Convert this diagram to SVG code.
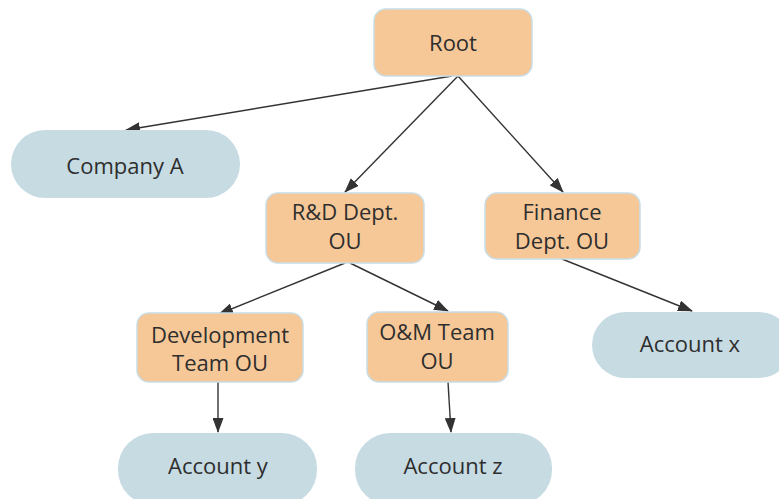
<svg xmlns="http://www.w3.org/2000/svg" width="779" height="499" viewBox="0 0 779 499">
<style>
.ou{fill:#F6C898;stroke:#C9DDE6;stroke-width:1.5}
.acc{fill:#C7DBE3}
text{font-family:"Open Sans","DejaVu Sans",sans-serif;font-size:22px;fill:#2e2e2e;text-anchor:middle}
.edge{stroke:#333;stroke-width:1.4;fill:none;marker-end:url(#arr)}
</style>
<defs>
<marker id="arr" markerUnits="userSpaceOnUse" markerWidth="15" markerHeight="11" refX="14" refY="5.5" orient="auto">
<path d="M0,0 L15,5.5 L0,11 z" fill="#333"/>
</marker>
</defs>
<rect width="779" height="499" fill="#fff"/>
<g id="connectors">
<line class="edge" x1="452" y1="76" x2="126" y2="130"/>
<line class="edge" x1="458" y1="76" x2="345" y2="192"/>
<line class="edge" x1="458" y1="76" x2="563" y2="192"/>
<line class="edge" x1="345" y1="263" x2="219" y2="314"/>
<line class="edge" x1="350" y1="263" x2="448" y2="311"/>
<line class="edge" x1="562" y1="259" x2="692" y2="311"/>
<line class="edge" x1="218" y1="382" x2="218" y2="432"/>
<line class="edge" x1="448" y1="382" x2="451" y2="432"/>
</g>
<g id="root"><rect class="ou" x="374" y="9" width="158" height="67" rx="12"/><text x="453" y="51">Root</text></g>
<g id="companyA"><rect class="acc" x="11" y="130" width="229" height="68" rx="34"/><text x="125" y="174">Company A</text></g>
<g id="rd"><rect class="ou" x="266" y="193" width="158" height="70" rx="12"/><text x="345" y="220">R&amp;D Dept.</text><text x="345" y="249">OU</text></g>
<g id="finance"><rect class="ou" x="485" y="193" width="155" height="66" rx="12"/><text x="562" y="220">Finance</text><text x="562" y="249">Dept. OU</text></g>
<g id="dev"><rect class="ou" x="137" y="313" width="166" height="69" rx="12"/><text x="220" y="343">Development</text><text x="220" y="371">Team OU</text></g>
<g id="om"><rect class="ou" x="367" y="312" width="141" height="70" rx="12"/><text x="437" y="340">O&amp;M Team</text><text x="437" y="369">OU</text></g>
<g id="accountX"><rect class="acc" x="592" y="312" width="200" height="66" rx="33"/><text x="690" y="352">Account x</text></g>
<g id="accountY"><rect class="acc" x="118" y="433" width="199" height="72" rx="35"/><text x="218" y="474">Account y</text></g>
<g id="accountZ"><rect class="acc" x="355" y="433" width="197" height="72" rx="35"/><text x="453" y="474">Account z</text></g>
</svg>
